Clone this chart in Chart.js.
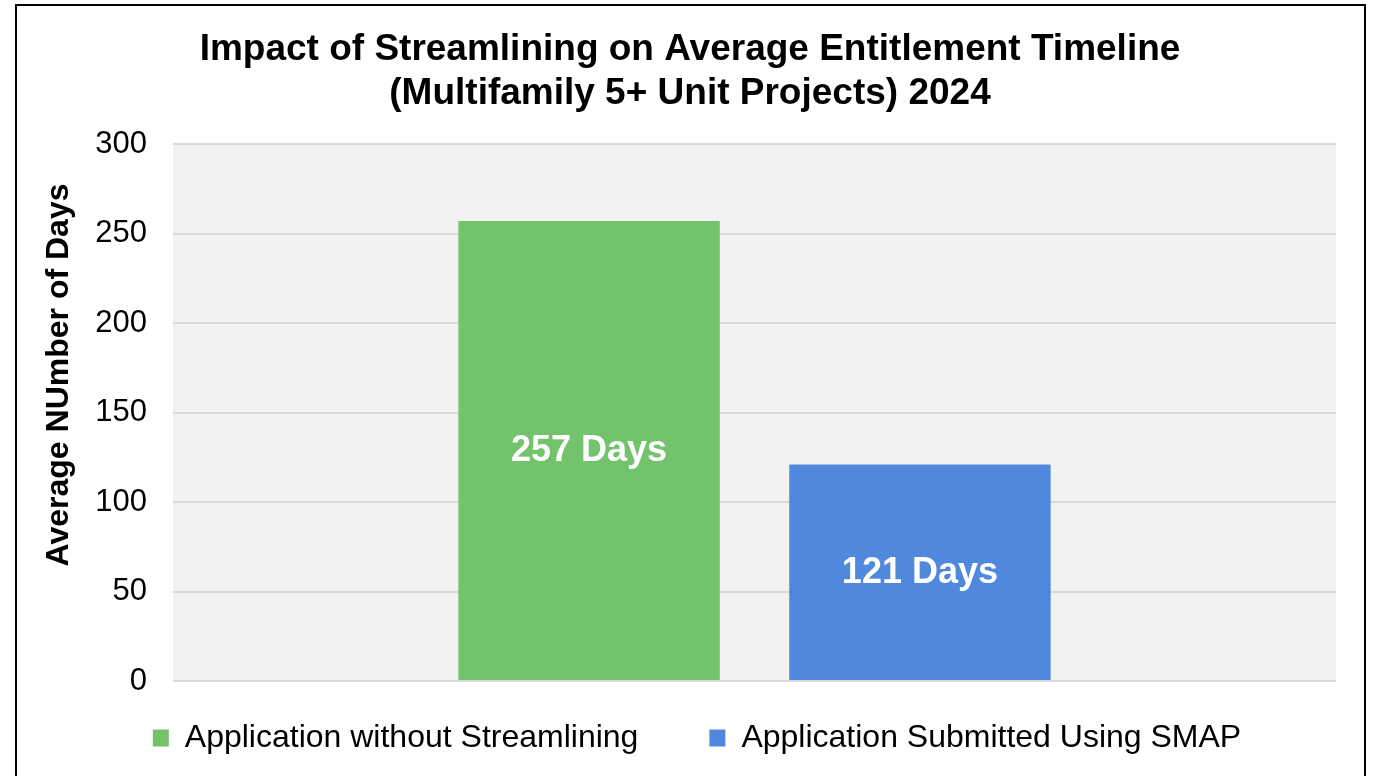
<!DOCTYPE html>
<html>
<head>
<meta charset="utf-8">
<script src="https://cdn.jsdelivr.net/npm/chart.js@4/dist/chart.umd.min.js"></script>
<style>
  html, body { margin: 0; padding: 0; background: #fff; }
  #wrap { width: 1375px; height: 776px; position: relative; }
</style>
</head>
<body>
<div id="wrap"><canvas id="chart" width="1375" height="776"></canvas></div>
<script>
const categories = [''];
const seriesNames = ['Application without Streamlining', 'Application Submitted Using SMAP'];
const withoutStreamlining = [257];
const usingSmap = [121];
const yTicks = [0, 50, 100, 150, 200, 250, 300];
const titleLines = ['Impact of Streamlining on Average Entitlement Timeline', '(Multifamily 5+ Unit Projects) 2024'];
const yTitle = 'Average NUmber of Days';

const font = '"Liberation Sans", Arial, sans-serif';
const green = '#72c36b';
const blue = '#5088de';

// grey plot background + outer frame
const backdrop = {
  id: 'backdrop',
  afterLayout(chart) {
    // the original centres title and legend a bit right of the canvas centre
    chart.titleBlock.left += 14;
    chart.titleBlock.right += 14;
    chart.legend.left += 21;
    chart.legend.right += 21;
  },
  beforeDraw(chart) {
    const { ctx, chartArea: a } = chart;
    ctx.save();
    ctx.fillStyle = '#f2f2f2';
    ctx.fillRect(a.left, a.top, a.right - a.left, a.bottom - a.top);
    ctx.restore();
  },
  afterDraw(chart) {
    const { ctx } = chart;
    ctx.save();
    ctx.strokeStyle = '#000';
    ctx.lineWidth = 2;
    ctx.strokeRect(16, 5, 1349, 800);
    // y axis title, drawn by hand so it sits where the original has it
    ctx.translate(59, 375);
    ctx.rotate(-Math.PI / 2);
    ctx.fillStyle = '#000';
    ctx.font = 'bold 32px ' + font;
    ctx.textAlign = 'center';
    ctx.textBaseline = 'middle';
    ctx.fillText(yTitle, 0, 0);
    ctx.restore();
  }
};

// "257 Days" style labels in the middle of each bar
const barLabels = {
  id: 'barLabels',
  afterDatasetsDraw(chart) {
    const { ctx } = chart;
    ctx.save();
    ctx.fillStyle = '#fff';
    ctx.font = 'bold 36px ' + font;
    ctx.textAlign = 'center';
    ctx.textBaseline = 'middle';
    chart.data.datasets.forEach((ds, i) => {
      chart.getDatasetMeta(i).data.forEach((bar, j) => {
        const mid = (bar.y + bar.base) / 2;
        ctx.fillText(ds.data[j] + ' Days', bar.x, mid + 1);
      });
    });
    ctx.restore();
  }
};

new Chart(document.getElementById('chart'), {
  type: 'bar',
  data: {
    labels: categories,
    datasets: [
      { label: seriesNames[0], data: withoutStreamlining, backgroundColor: green },
      { label: seriesNames[1], data: usingSmap, backgroundColor: blue },
    ],
  },
  options: {
    responsive: false,
    animation: false,
    categoryPercentage: 0.569,
    barPercentage: 0.79,
    layout: { padding: { top: 20, left: 16, right: 39, bottom: -18 } },
    plugins: {
      title: {
        display: true,
        text: titleLines,
        color: '#000',
        font: { family: font, size: 37, weight: 'bold', lineHeight: 1.19 },
        padding: { top: 8, bottom: 28 },
      },
      legend: {
        position: 'bottom',
        labels: {
          color: '#000',
          font: { family: font, size: 32 },
          boxWidth: 16,
          boxHeight: 17,
          padding: 71,
        },
      },
      tooltip: { enabled: false },
    },
    scales: {
      x: {
        grid: { display: false },
        border: { display: false },
        ticks: { display: false },
        // pull the legend up close under the plot
        afterFit(scale) { scale.height = -30; },
      },
      y: {
        min: 0,
        max: 300,
        afterBuildTicks(scale) {
          scale.ticks = yTicks.map(v => ({ value: v }));
        },
        afterFit(scale) { scale.width = 157; },
        grid: { color: '#d9d9d9', lineWidth: 2, drawTicks: false },
        border: { display: false },
        ticks: { color: '#000', font: { family: font, size: 31 }, padding: 26 },
      },
    },
  },
  plugins: [backdrop, barLabels],
});
</script>
</body>
</html>
